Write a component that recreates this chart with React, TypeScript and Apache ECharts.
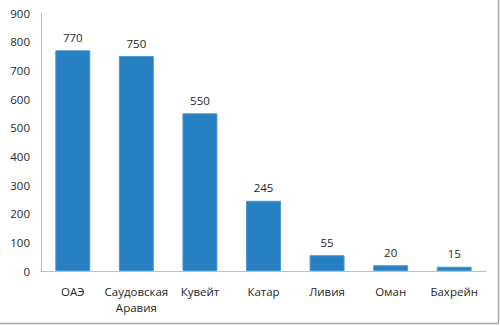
import React, { useEffect, useRef } from "react";
import * as echarts from "echarts";

const categories = ["ОАЭ", "Саудовская\nАравия", "Кувейт", "Катар", "Ливия", "Оман", "Бахрейн"];
const values = [770, 750, 550, 245, 55, 20, 15];
const yTicks = { min: 0, max: 900, interval: 100 };

export default function App() {
  const ref = useRef<HTMLDivElement>(null);
  useEffect(() => {
    const chart = echarts.init(ref.current!, null, { renderer: "svg" });
    const font = "'Open Sans', 'Noto Sans', sans-serif";
    chart.setOption({
      animation: false,
      backgroundColor: "#ffffff",
      grid: { left: 41, right: 14, top: 13, bottom: 55, containLabel: false },
      xAxis: {
        type: "category",
        data: categories,
        axisLine: { show: true, lineStyle: { color: "#bfbfbf", width: 1 } },
        axisTick: { show: false },
        axisLabel: { color: "#262626", fontSize: 11.5, fontFamily: font, margin: 12, lineHeight: 16, interval: 0 },
      },
      yAxis: {
        type: "value",
        min: yTicks.min,
        max: yTicks.max,
        interval: yTicks.interval,
        axisLine: { show: true, lineStyle: { color: "#bfbfbf", width: 1 } },
        axisTick: { show: false },
        splitLine: { show: false },
        axisLabel: { color: "#262626", fontSize: 11.5, fontFamily: font, margin: 11 },
      },
      series: [
        {
          type: "bar",
          data: values,
          barCategoryGap: "45%",
          itemStyle: { color: "#2680c2", borderColor: "#4a97d2", borderWidth: 1 },
          label: {
            show: true,
            position: "top",
            distance: 7,
            color: "#262626",
            fontSize: 11.5,
            fontFamily: font,
          },
        },
      ],
      graphic: [
        { type: "line", shape: { x1: 498.5, y1: 0, x2: 498.5, y2: 323.5 }, style: { stroke: "#a6a6a6", lineWidth: 1.5 } },
        { type: "line", shape: { x1: 0, y1: 323.5, x2: 499, y2: 323.5 }, style: { stroke: "#a6a6a6", lineWidth: 1.5 } },
      ],
    });
    return () => chart.dispose();
  }, []);
  return <div ref={ref} style={{ position: "fixed", left: 0, top: 0, width: 500, height: 326 }} />;
}
